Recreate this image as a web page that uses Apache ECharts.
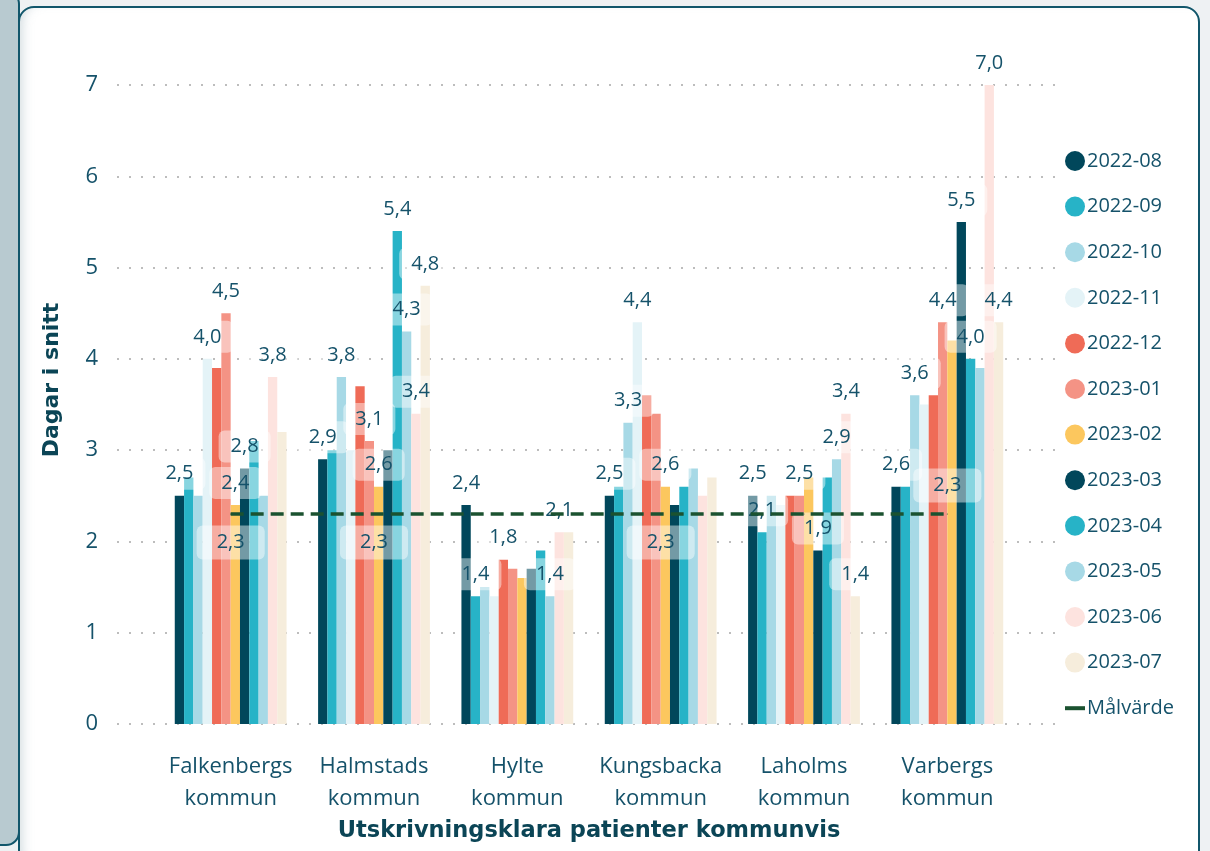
<!DOCTYPE html>
<html lang="sv">
<head>
<meta charset="utf-8">
<title>Utskrivningsklara patienter kommunvis</title>
<script src="https://cdn.jsdelivr.net/npm/echarts@6.0.0/dist/echarts.min.js"></script>
<style>
  html, body {
    margin: 0;
    padding: 0;
    width: 1210px;
    height: 851px;
    overflow: hidden;
    background: #eef1f3;
  }
  .side-card {
    position: absolute;
    left: -30px;
    top: -10px;
    width: 46px;
    height: 852px;
    background: #b8cad0;
    border: 2px solid #11566b;
    border-radius: 14px;
  }
  .main-card {
    position: absolute;
    left: 18px;
    top: 6px;
    width: 1178px;
    height: 860px;
    background: #ffffff;
    border: 2px solid #11566b;
    border-radius: 16px;
    box-shadow: inset 10px 0 12px -8px rgba(120, 150, 160, 0.35);
  }
  #chart {
    position: absolute;
    left: 0;
    top: 0;
    width: 1210px;
    height: 851px;
  }
</style>
</head>
<body>
<div class="side-card"></div>
<div class="main-card"></div>
<div id="chart"></div>
<script>
const categories = [
  "Falkenbergs\nkommun",
  "Halmstads\nkommun",
  "Hylte\nkommun",
  "Kungsbacka\nkommun",
  "Laholms\nkommun",
  "Varbergs\nkommun",
];

const months = [
  "2022-08", "2022-09", "2022-10", "2022-11", "2022-12", "2023-01",
  "2023-02", "2023-03", "2023-04", "2023-05", "2023-06", "2023-07",
];

// one array per month, values per kommun (same order as categories)
const v202208 = [2.5, 2.9, 2.4, 2.5, 2.5, 2.6];
const v202209 = [2.7, 3.0, 1.4, 2.6, 2.1, 2.6];
const v202210 = [2.5, 3.8, 1.5, 3.3, 2.5, 3.6];
const v202211 = [4.0, 3.0, 1.4, 4.4, 2.4, 3.5];
const v202212 = [3.9, 3.7, 1.8, 3.6, 2.5, 3.6];
const v202301 = [4.5, 3.1, 1.7, 3.4, 2.5, 4.4];
const v202302 = [2.4, 2.6, 1.6, 2.6, 2.7, 4.2];
const v202303 = [2.8, 3.0, 1.7, 2.4, 1.9, 5.5];
const v202304 = [3.1, 5.4, 1.9, 2.6, 2.7, 4.0];
const v202305 = [2.5, 4.3, 1.4, 2.8, 2.9, 3.9];
const v202306 = [3.8, 3.4, 2.1, 2.5, 3.4, 7.0];
const v202307 = [3.2, 4.8, 2.1, 2.7, 1.4, 4.4];
const monthValues = [
  v202208, v202209, v202210, v202211, v202212, v202301,
  v202302, v202303, v202304, v202305, v202306, v202307,
];

const targetValues = [2.3, 2.3, 2.3, 2.3, 2.3, 2.3];
const targetName = "Målvärde";

const yTicks = [0, 1, 2, 3, 4, 5, 6, 7];

// which month bars carry a visible data label, per kommun (month indexes)
const labelledBars = [
  [0, 3, 5, 6, 7, 10],
  [0, 2, 5, 6, 8, 9, 10, 11],
  [0, 1, 4, 9, 10],
  [0, 2, 3, 6],
  [0, 1, 5, 7, 9, 10, 11],
  [0, 2, 5, 7, 8, 10, 11],
];
// where the target label sits for each kommun (null = hidden)
const targetLabelPos = ["bottom", "bottom", null, "bottom", null, "top"];

const colors = [
  "#01475b", "#27b3c7", "#a7d9e6", "#e4f3f7", "#ef6b57", "#f49385",
  "#fcc75e", "#01475b", "#27b3c7", "#a7d9e6", "#fde3df", "#f6eddc",
];
const targetColor = "#1b5230";
const textColor = "#15526a";
const titleColor = "#0b4556";
const baseFont = "'Open Sans', 'Noto Sans', sans-serif";
const titleFont = "'DejaVu Sans', sans-serif";

function formatValue(value) {
  return Number(value).toFixed(1).replace(".", ",");
}

const labelBox = {
  color: textColor,
  fontSize: 20,
  fontFamily: baseFont,
  backgroundColor: "rgba(255, 255, 255, 0.45)",
  borderRadius: 6,
  padding: [6, 12],
  formatter: (p) => formatValue(p.value),
};

const barSeries = months.map((month, m) => ({
  name: month,
  type: "bar",
  xAxisIndex: 1,
  yAxisIndex: 1,
  barGap: "0%",
  barCategoryGap: "22%",
  itemStyle: { color: colors[m] },
  data: monthValues[m].map((value, c) => {
    const show = labelledBars[c].includes(m);
    return {
      value,
      label: show ? Object.assign({ show: true, position: "top", distance: 6 }, labelBox) : { show: false },
    };
  }),
}));

const targetSeries = {
  name: targetName,
  type: "line",
  xAxisIndex: 1,
  yAxisIndex: 1,
  symbol: "circle",
  symbolSize: 1,
  itemStyle: { color: targetColor },
  lineStyle: { color: targetColor, width: 3.5, type: [13, 7] },
  z: 5,
  data: targetValues.map((value, c) => ({
    value,
    label: targetLabelPos[c]
      ? Object.assign({ show: true, position: targetLabelPos[c], distance: 11 }, labelBox, { padding: [7, 20] })
      : { show: false },
  })),
};

const chart = echarts.init(document.getElementById("chart"), null, { renderer: "canvas" });

chart.setOption({
  backgroundColor: "transparent",
  animation: false,
  textStyle: { fontFamily: baseFont },
  grid: [
    { left: 117, width: 943, top: 85, bottom: 127 },
    { left: 159, width: 860, top: 85, bottom: 127 },
  ],
  legend: {
    orient: "vertical",
    left: 1060,
    top: 146,
    itemWidth: 20,
    itemHeight: 20,
    itemGap: 25.6,
    icon: "circle",
    textStyle: { color: textColor, fontSize: 20, fontFamily: baseFont, padding: [0, 0, 0, -3] },
    data: months
      .map((name) => ({ name }))
      .concat([{ name: targetName, icon: "path://M0,0 L20,0 L20,4 L0,4 Z", itemStyle: { color: targetColor } }]),
  },
  xAxis: [
    {
      gridIndex: 0,
      type: "category",
      data: [""],
      show: false,
    },
    {
      gridIndex: 1,
      type: "category",
      data: categories,
      axisLine: { show: false },
      axisTick: { show: false },
      axisLabel: {
        interval: 0,
        color: textColor,
        fontSize: 22,
        fontFamily: baseFont,
        lineHeight: 32,
        margin: 27,
      },
      name: "Utskrivningsklara patienter kommunvis",
      nameLocation: "middle",
      nameGap: 93,
      nameTextStyle: {
        color: titleColor,
        fontSize: 22.5,
        fontWeight: "bold",
        fontFamily: titleFont,
      },
    },
  ],
  yAxis: [
    {
      gridIndex: 0,
      type: "value",
      min: yTicks[0],
      max: yTicks[yTicks.length - 1],
      interval: 1,
      axisLine: { show: false },
      axisTick: { show: false },
      axisLabel: {
        color: textColor,
        fontSize: 22,
        fontFamily: baseFont,
        margin: 19,
      },
      splitLine: {
        lineStyle: { color: "#bdbdbd", width: 2, type: [2, 10] },
      },
    },
    {
      gridIndex: 1,
      type: "value",
      min: yTicks[0],
      max: yTicks[yTicks.length - 1],
      interval: 1,
      show: false,
      splitLine: { show: false },
    },
  ],
  graphic: [
    {
      type: "text",
      x: 52,
      y: 380,
      rotation: Math.PI / 2,
      style: {
        text: "Dagar i snitt",
        fill: titleColor,
        font: "bold 22px 'DejaVu Sans', sans-serif",
        align: "center",
        verticalAlign: "middle",
      },
    },
  ],
  series: barSeries.concat([targetSeries]),
});
</script>
</body>
</html>
